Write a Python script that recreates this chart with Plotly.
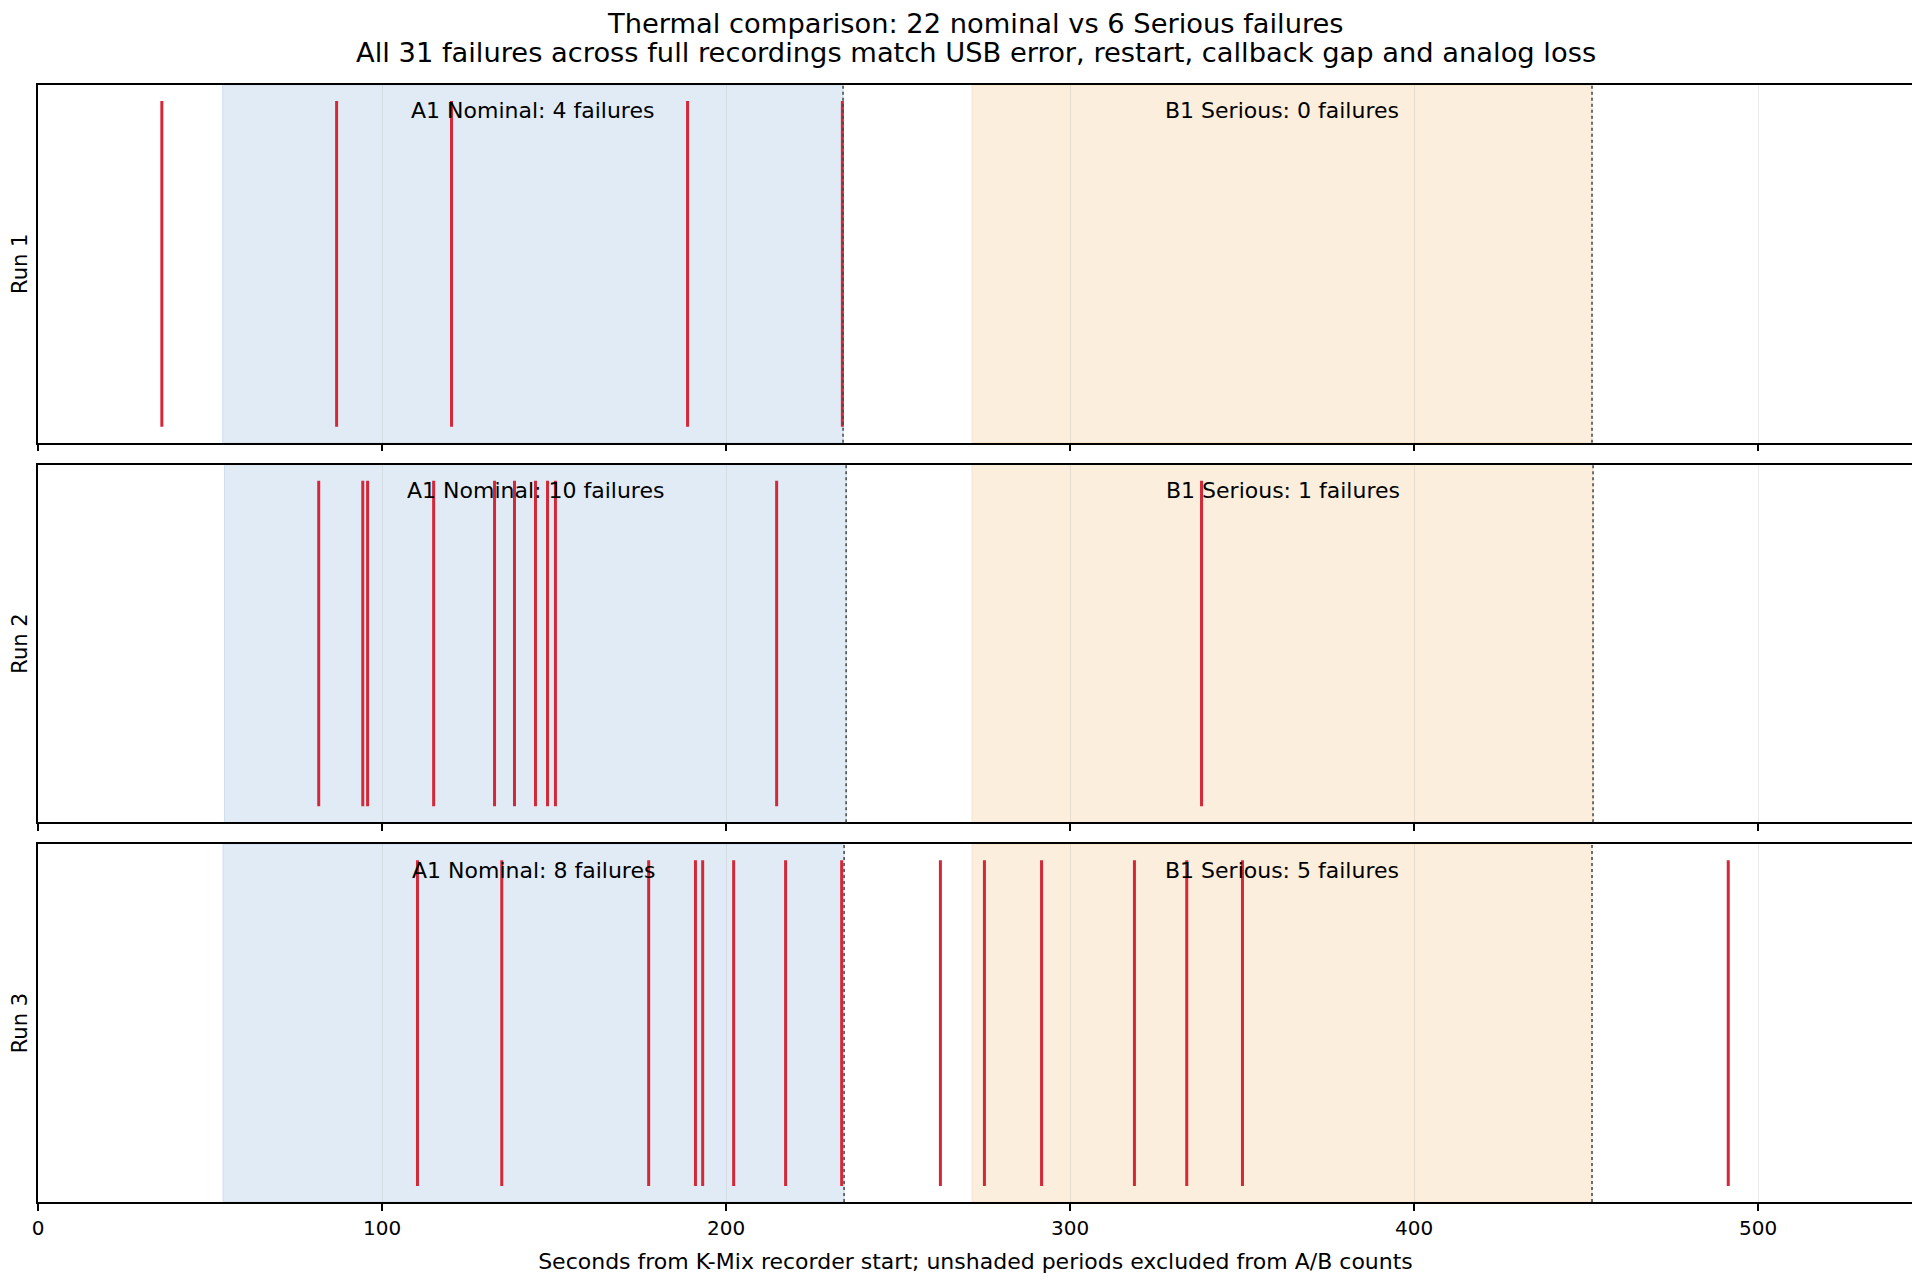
import plotly.graph_objects as go
from plotly.subplots import make_subplots

# event times (seconds from recorder start)
run_names = ["Run 1", "Run 2", "Run 3"]
run1_events = [36.0, 86.8, 120.2, 188.8, 233.8]
run2_events = [81.6, 94.4, 95.8, 115.0, 132.7, 138.5, 144.6, 148.1, 150.4, 214.7, 338.2]
run3_events = [110.3, 134.8, 177.5, 191.1, 193.2, 202.2, 217.3, 233.6,
               262.3, 275.1, 291.7, 318.7, 333.9, 350.1, 491.3]
events = [run1_events, run2_events, run3_events]

# analysis windows per run
a_start = [53.7, 54.2, 53.8]
a_end = [234.0, 234.9, 234.3]
b_start = [271.5, 271.5, 271.5]
b_end = [451.7, 452.0, 451.7]
a_counts = [4, 10, 8]
b_counts = [0, 1, 5]

x_ticks = [0, 100, 200, 300, 400, 500]
x_max = 545

title_lines = [
    "Thermal comparison: 22 nominal vs 6 Serious failures",
    "All 31 failures across full recordings match USB error, restart, callback gap and analog loss",
]

FONT = "DejaVu Sans"
RED = "#d42838"
BLUE_FILL = "#e1ebf6"
ORANGE_FILL = "#fbeedd"

fig = make_subplots(rows=3, cols=1, shared_xaxes=True, vertical_spacing=0.0196)

shapes = []
annotations = []
for i, ev in enumerate(events):
    row = i + 1
    xs, ys = [], []
    for t in ev:
        xs += [t, t, None]
        ys += [0.045, 0.955, None]
    fig.add_trace(
        go.Scatter(x=xs, y=ys, mode="lines", line=dict(color=RED, width=3),
                   hoverinfo="skip", showlegend=False),
        row=row, col=1,
    )
    xref = "x" if row == 1 else f"x{row}"
    yref = "y domain" if row == 1 else f"y{row} domain"
    shapes.append(dict(type="rect", xref=xref, yref=yref, x0=a_start[i], x1=a_end[i], y0=0, y1=1,
                       fillcolor=BLUE_FILL, line=dict(color="#cddff0", width=1), layer="below"))
    shapes.append(dict(type="rect", xref=xref, yref=yref, x0=b_start[i], x1=b_end[i], y0=0, y1=1,
                       fillcolor=ORANGE_FILL, line=dict(color="#f7e2c8", width=1), layer="below"))
    for xe in (a_end[i], b_end[i]):
        shapes.append(dict(type="line", xref=xref, yref=yref, x0=xe, x1=xe, y0=0, y1=1,
                           line=dict(color="#444444", width=1.5, dash="dot"), layer="above"))
    annotations.append(dict(x=(a_start[i] + a_end[i]) / 2, y=0.928, xref=xref, yref=yref,
                            yanchor="middle",
                            text=f"A1 Nominal: {a_counts[i]} failures", showarrow=False,
                            font=dict(family=FONT, size=22, color="black")))
    annotations.append(dict(x=(b_start[i] + b_end[i]) / 2, y=0.928, xref=xref, yref=yref,
                            yanchor="middle",
                            text=f"B1 Serious: {b_counts[i]} failures", showarrow=False,
                            font=dict(family=FONT, size=22, color="black")))

# two-line figure title
for line, ypos in zip(title_lines, [1.0553, 1.0290]):
    annotations.append(dict(x=0.5, y=ypos, xref="paper", yref="paper", xanchor="center",
                            yanchor="middle", text=line, showarrow=False,
                            font=dict(family=FONT, size=27.3, color="black")))

fig.update_xaxes(
    range=[0, x_max], tickvals=x_ticks, ticks="outside", ticklen=7, tickwidth=1.5,
    tickcolor="black", showline=True, linecolor="black", linewidth=1.5, mirror=True,
    showgrid=True, gridcolor="rgba(150,150,150,0.2)", gridwidth=1.2, zeroline=False,
    tickfont=dict(family=FONT, size=20, color="black"), automargin=False,
)
fig.update_yaxes(
    range=[0, 1], showticklabels=False, ticks="", showgrid=False, zeroline=False,
    showline=True, linecolor="black", linewidth=1.5, mirror=True, automargin=False,
    title_font=dict(family=FONT, size=21, color="black"), title_standoff=8,
)
for i, name in enumerate(run_names):
    fig.update_yaxes(title_text=name, row=i + 1, col=1)
fig.update_xaxes(
    title_text="Seconds from K-Mix recorder start; unshaded periods excluded from A/B counts",
    title_font=dict(family=FONT, size=22, color="black"), title_standoff=15,
    row=3, col=1,
)

# the page adds an 8px body margin, so the figure is slightly smaller than the window
fig.update_layout(
    width=1912, height=1272,
    margin=dict(l=30, r=7, t=77, b=78),
    paper_bgcolor="white", plot_bgcolor="white",
    font=dict(family=FONT, color="black"),
    shapes=shapes,
    annotations=annotations,
    showlegend=False,
)

fig.write_html("out.html")
